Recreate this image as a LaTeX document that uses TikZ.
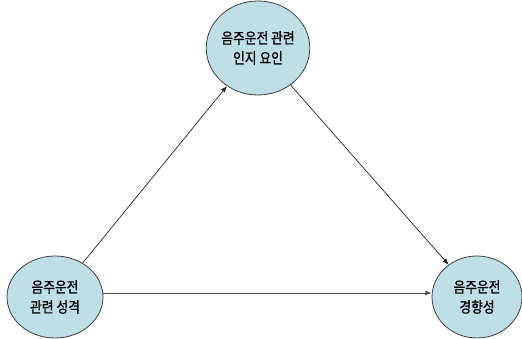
\documentclass[tikz,border=0pt]{standalone}
\usepackage{fontspec}
\setmainfont{Noto Sans CJK KR}[FakeStretch=0.85,FakeBold=0.8]
\usetikzlibrary{arrows.meta,shapes.geometric}

\definecolor{nodeblue}{RGB}{190,223,228}

\tikzset{
  factor/.style={ellipse,draw=black!75,fill=nodeblue,line width=0.8pt,
    align=center,inner sep=0pt,font=\fontsize{15}{20}\selectfont},
}

\begin{document}
\begin{tikzpicture}[x=1pt,y=1pt,>={Latex[length=2.2mm,width=1.8mm]}]
  \useasboundingbox (0,0) rectangle (522,339);
  \node[factor,minimum width=98pt,minimum height=94pt] (cog) at (258,291) {음주운전 관련\\인지 요인};
  \node[factor,minimum width=96pt,minimum height=82pt] (pers) at (55,42) {음주운전\\관련 성격};
  \node[factor,minimum width=90pt,minimum height=82pt] (tend) at (477,42) {음주운전\\경향성};
  \draw[->,black!85,line width=0.7pt] (pers) -- (cog);
  \draw[->,black!85,line width=0.7pt] (cog) -- (tend);
  \draw[->,black!70,line width=0.9pt] ([yshift=4pt]pers.east) -- ([yshift=4pt]tend.west);
\end{tikzpicture}
\end{document}
